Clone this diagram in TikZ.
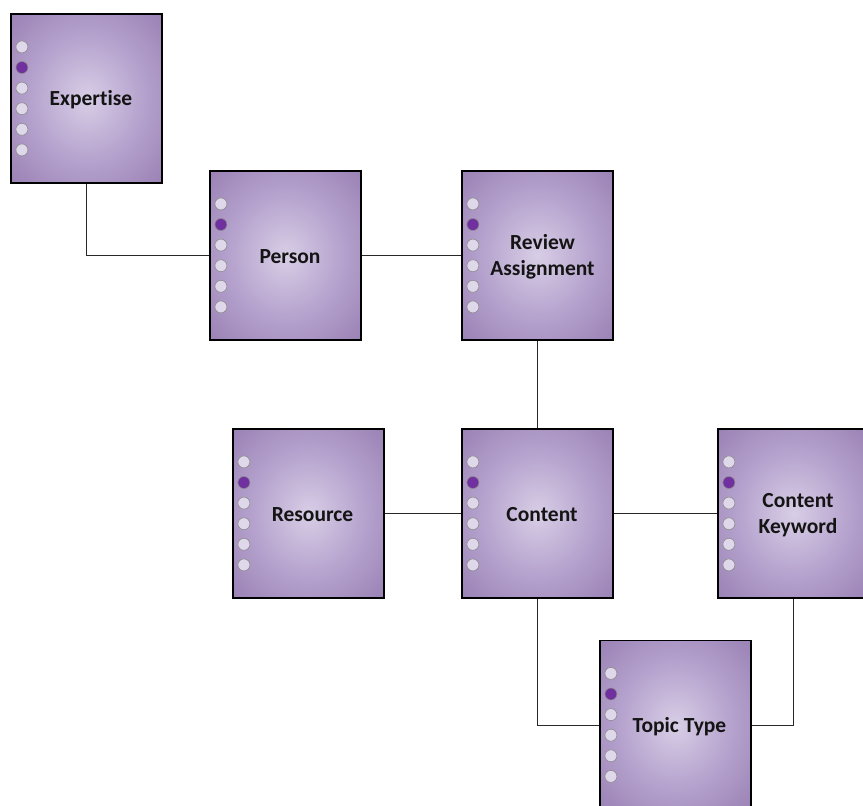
\documentclass[tikz,border=0pt]{standalone}
\usepackage{fontspec}
\setmainfont{Carlito}[Ligatures=NoCommon]
\usetikzlibrary{calc}

\definecolor{glowin}{RGB}{216,206,230}
\definecolor{glowmid}{RGB}{182,163,206}
\definecolor{glowout}{RGB}{143,117,171}
\definecolor{pinlight}{RGB}{222,216,234}
\definecolor{pindark}{RGB}{112,48,160}
\definecolor{pinrim}{RGB}{140,140,140}
\definecolor{wirecol}{RGB}{40,40,40}

\pgfdeclareradialshading{boxglow}{\pgfpoint{0bp}{0bp}}{%
  color(0bp)=(glowin);
  color(18bp)=(glowmid);
  color(42bp)=(glowout);
  color(70bp)=(glowout)}

\tikzset{
  entity/.style={rectangle, draw=black, line width=1.2pt,
    minimum width=151pt, minimum height=169pt, inner sep=0pt,
    shading=boxglow},
  title/.style={font=\bfseries\fontsize{21.5}{26}\selectfont,
    text=black!92, align=center},
  pin/.style={circle, draw=pinrim, line width=0.6pt, fill=pinlight,
    minimum size=12pt, inner sep=0pt},
  pinon/.style={pin, fill=pindark},
  wire/.style={draw=wirecol, line width=0.9pt},
}

% six attribute pins down the left edge of an entity box
\newcommand{\pinrow}[1]{%
  \foreach \k in {0,...,5}{%
    \ifnum\k=1
      \node[pinon] (#1-pin\k) at ($(#1.north west)+(11.5,33.5+20.6*\k)$) {};
    \else
      \node[pin] (#1-pin\k) at ($(#1.north west)+(11.5,33.5+20.6*\k)$) {};
    \fi
  }%
}

\begin{document}
\begin{tikzpicture}[x=1pt,y=-1pt]
\useasboundingbox (0,0) rectangle (863,806);
\clip (0,0) rectangle (863,806);

% box centres
\coordinate (expc) at (86.5,98.5);
\coordinate (perc) at (285.5,255.5);
\coordinate (revc) at (537.5,255.5);
\coordinate (resc) at (308.5,513.5);
\coordinate (conc) at (537.5,513.5);
\coordinate (kwc)  at (793.5,513.5);
\coordinate (topc) at (675.5,725);

% entity boxes
\node[entity] (exp) at (expc) {};
\node[entity] (per) at (perc) {};
\node[entity] (rev) at (revc) {};
\node[entity] (res) at (resc) {};
\node[entity] (con) at (conc) {};
\node[entity] (kw)  at (kwc)  {};
\node[entity] (top) at (topc) {};

% connectors
\draw[wire] (exp.south) |- (per.west);
\draw[wire] (per.east) -- (rev.west);
\draw[wire] (rev.south) -- (con.north);
\draw[wire] (res.east) -- (con.west);
\draw[wire] (con.east) -- (kw.west);
\draw[wire] (con.south) |- (top.west);
\draw[wire] (kw.south) |- (top.east);

% titles
\node[title] (exp-t) at ($(exp.center)+(4.5,1.5)$) {Expertise};
\node[title] (per-t) at ($(per.center)+(4.5,1.5)$) {Person};
\node[title] (rev-t) at ($(rev.center)+(5,1.5)$) {Review\\Assignment};
\node[title] (res-t) at ($(res.center)+(4,1.5)$) {Resource};
\node[title] (con-t) at ($(con.center)+(4.5,1.5)$) {Content};
\node[title] (kw-t)  at ($(kw.center)+(4.5,1.5)$) {Content\\Keyword};
\node[title] (top-t) at ($(top.center)+(4,1.5)$) {Topic Type};

% pins
\pinrow{exp}
\pinrow{per}
\pinrow{rev}
\pinrow{res}
\pinrow{con}
\pinrow{kw}
\pinrow{top}
\end{tikzpicture}
\end{document}
